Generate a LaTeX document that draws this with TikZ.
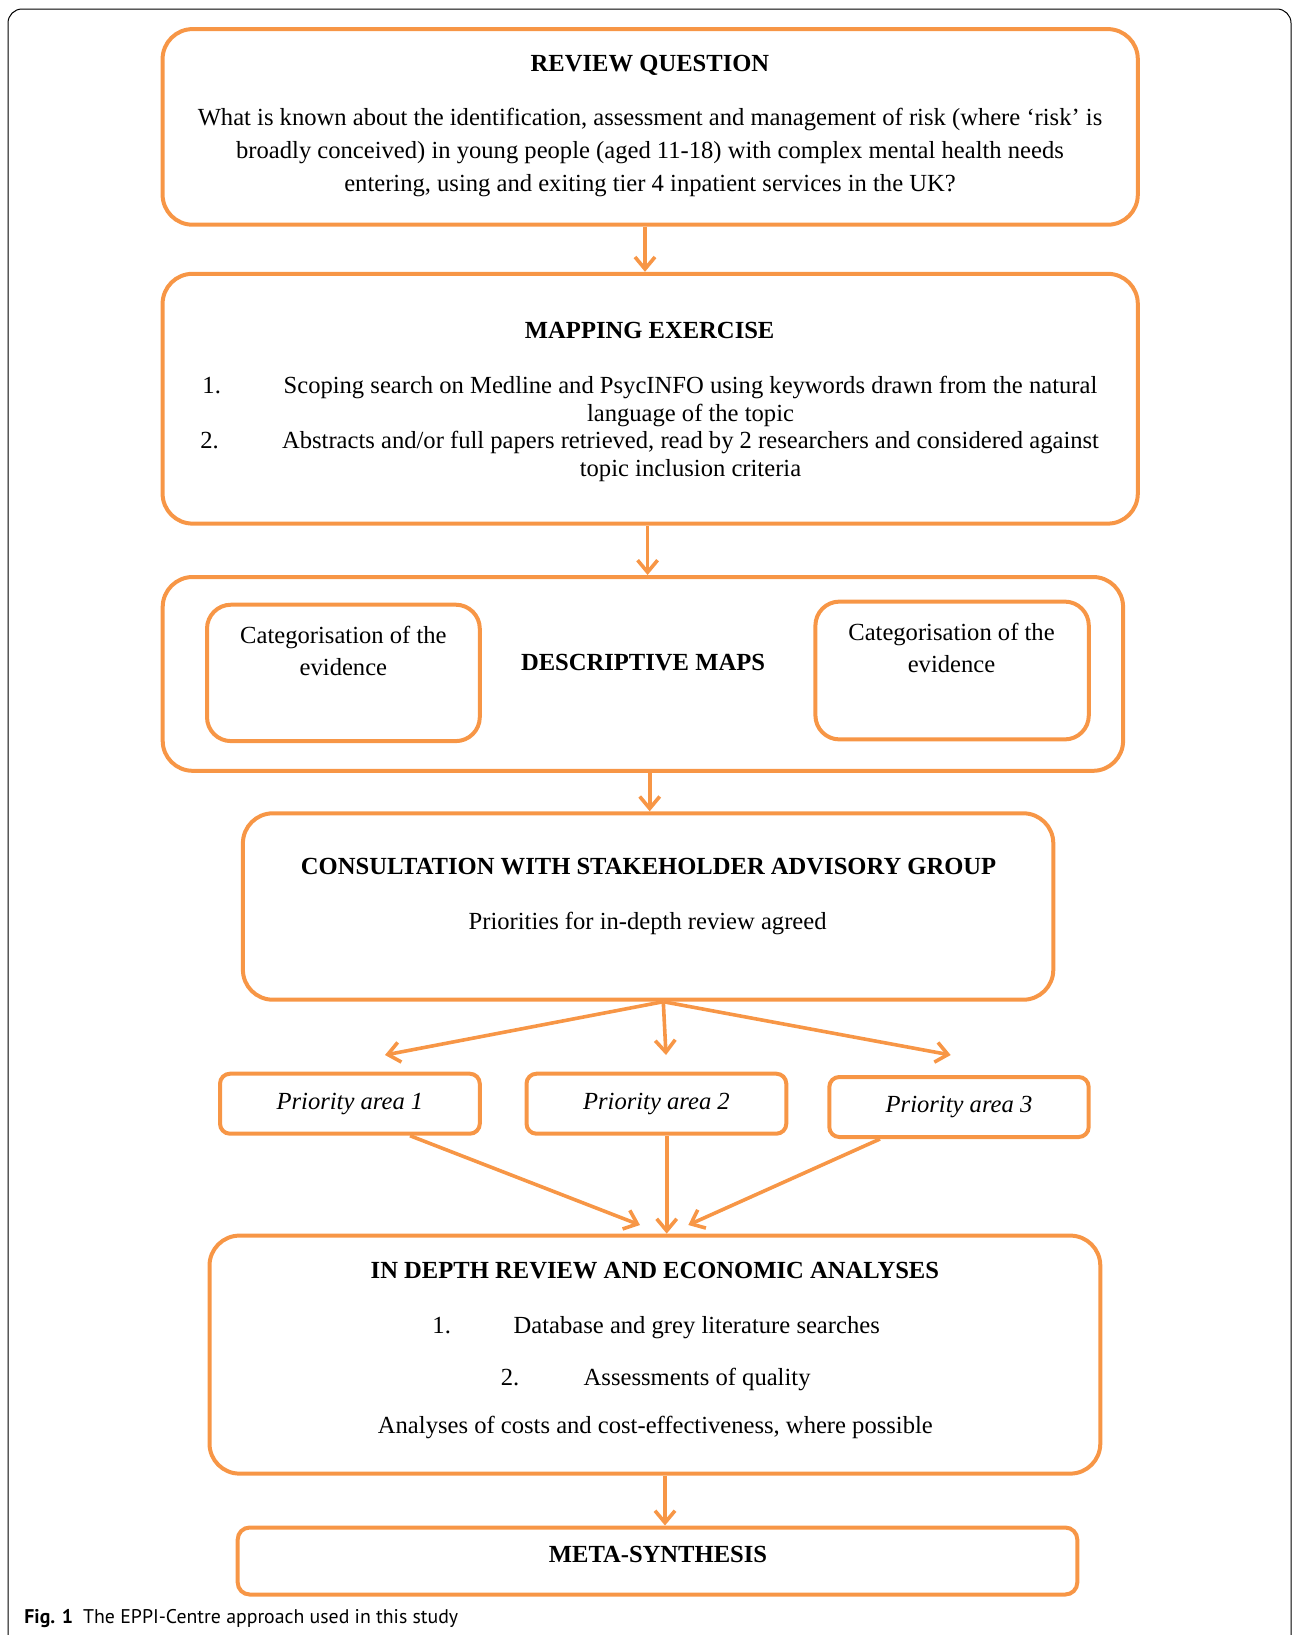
\documentclass[tikz,border=0pt]{standalone}
\usepackage{fontspec}
\setmainfont{Liberation Serif}
\newfontfamily\capfont{PT Sans}
\usepackage{tikz}
\usetikzlibrary{arrows.meta}

\definecolor{eppiorange}{HTML}{F79646}

\begin{document}
\begin{tikzpicture}[
    x=0.5pt, y=-0.5pt,
    every node/.style={inner sep=0pt, align=center, font=\fontsize{12.3}{16}\selectfont},
    box/.style={draw=eppiorange, line width=2pt, rounded corners=15pt},
    smallbox/.style={box, rounded corners=5pt, font=\fontsize{12.3}{16}\selectfont\itshape},
    head/.style={font=\fontsize{12.3}{16}\selectfont\bfseries},
    arrow/.style={draw=eppiorange, line width=1.8pt, -{Straight Barb[length=6pt,width=10pt]}}
  ]
  \useasboundingbox (0,0) rectangle (1292,1635);

  % cadre de la figure
  \draw[line width=0.5pt, rounded corners=7pt] (8,9) rectangle (1291,1700);

  % les boites
  \node[box, minimum width=487.6pt, minimum height=97.8pt] (rq) at (650.2,126.9) {};
  \node[box, minimum width=487.6pt, minimum height=124.9pt] (me) at (650.2,398.7) {};
  \node[box, minimum width=480.2pt, minimum height=96.9pt] (dm) at (642.9,673.9) {};
  \node[box, rounded corners=12pt, minimum width=136.4pt, minimum height=68.2pt] (dml) at (343.4,672.9) {};
  \node[box, rounded corners=12pt, minimum width=136.7pt, minimum height=68.9pt] (dmr) at (952.1,670.5) {};
  \node[box, minimum width=405.2pt, minimum height=93.2pt] (cs) at (648.1,906.5) {};
  \node[smallbox, minimum width=129.9pt, minimum height=30pt] (p1) at (349.9,1103.7) {Priority area 1};
  \node[smallbox, minimum width=129.9pt, minimum height=30pt] (p2) at (656.4,1103.7) {Priority area 2};
  \node[smallbox, minimum width=129.7pt, minimum height=30pt] (p3) at (959,1107) {Priority area 3};
  \node[box, minimum width=445.4pt, minimum height=119pt] (id) at (654.9,1354.6) {};
  \node[box, rounded corners=6pt, minimum width=419.8pt, minimum height=33.5pt] (ms) at (657.5,1561) {};

  % textes
  \node[head] (rqhead) at (650,65) {REVIEW QUESTION};
  \node[font=\fontsize{12.3}{16.3}\selectfont] (rqtext) at (650,152.5)
    {What is known about the identification, assessment and management of risk (where ‘risk’ is\\
     broadly conceived) in young people (aged 11-18) with complex mental health needs\\
     entering, using and exiting tier 4 inpatient services in the UK?};

  \node[head] (mehead) at (649.7,330.5) {MAPPING EXERCISE};
  \node[anchor=base] (menum1) at (211.7,393.3) {1.};
  \node[font=\fontsize{12.3}{14.2}\selectfont] (meitem1) at (690.5,401.5)
    {Scoping search on Medline and PsycINFO using keywords drawn from the natural\\
     language of the topic};
  \node[anchor=base] (menum2) at (209.5,448.3) {2.};
  \node[font=\fontsize{12.3}{14.2}\selectfont] (meitem2) at (690.5,456.5)
    {Abstracts and/or full papers retrieved, read by 2 researchers and considered against\\
     topic inclusion criteria};

  \node[head] (dmhead) at (643,663) {DESCRIPTIVE MAPS};
  \node (dmltext) at (343.4,651) {Categorisation of the\\evidence};
  \node (dmrtext) at (951.5,648) {Categorisation of the\\evidence};

  \node[head] (cshead) at (648.6,866.5) {CONSULTATION WITH STAKEHOLDER ADVISORY GROUP};
  \node (cstext) at (647.6,923.5) {Priorities for in-depth review agreed};

  \node[head] (idhead) at (654.9,1271) {IN DEPTH REVIEW AND ECONOMIC ANALYSES};
  \node[anchor=base] (idnum1) at (441.7,1333.3) {1.};
  \node[anchor=base west] (iditem1) at (513.3,1333.3) {Database and grey literature searches};
  \node[anchor=base] (idnum2) at (510,1385) {2.};
  \node[anchor=base west] (iditem2) at (583.3,1385) {Assessments of quality};
  \node (idtext) at (655.4,1427.6) {Analyses of costs and cost-effectiveness, where possible};

  \node[head] (mshead) at (658,1554.8) {META-SYNTHESIS};

  \node[anchor=west, font=\capfont\fontsize{9.9}{12}\selectfont] (caption) at (24,1619)
    {\textbf{Fig. 1}\hspace{5pt}The EPPI-Centre approach used in this study};

  % fleches
  \coordinate (tip1) at (385,1055);
  \coordinate (tip2) at (666,1055);
  \coordinate (tip3) at (950.7,1055);
  \coordinate (in1) at (640,1225);
  \coordinate (in3) at (688.3,1225);

  \draw[arrow] (rq.south -| 645,0) -- (me.north -| 645,0);
  \draw[arrow] (me.south -| 647.6,0) -- (dm.north -| 647.6,0);
  \draw[arrow] (dm.south -| 649.7,0) -- (cs.north -| 649.7,0);
  \draw[arrow] (cs.south -| 663.3,0) -- (tip1);
  \draw[arrow] (cs.south -| 663.3,0) -- (tip2);
  \draw[arrow] (cs.south -| 663.3,0) -- (tip3);
  \draw[arrow] (p1.south -| 410,0) -- (in1);
  \draw[arrow] (p2.south -| 666.7,0) -- (id.north -| 666.7,0);
  \draw[arrow] (p3.south -| 880,0) -- (in3);
  \draw[arrow] (id.south -| 665,0) -- (ms.north -| 665,0);
\end{tikzpicture}
\end{document}
